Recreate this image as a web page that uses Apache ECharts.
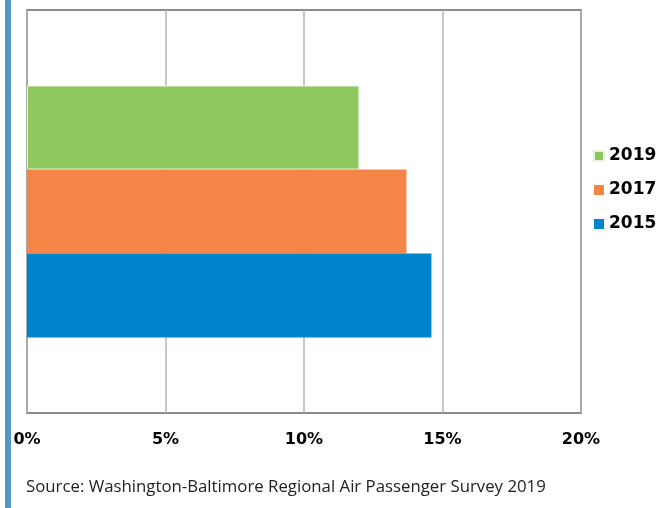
<!DOCTYPE html>
<html>
<head>
<meta charset="utf-8">
<script src="https://cdn.jsdelivr.net/npm/echarts@6/dist/echarts.min.js"></script>
<style>
  html, body { margin: 0; padding: 0; background: #fff; }
  #chart { width: 657px; height: 508px; }
</style>
</head>
<body>
<div id="chart"></div>
<script>
// Share of air passengers, by survey year
const categories = [''];
const years = ['2019', '2017', '2015'];
const values2019 = [12.0];
const values2017 = [13.7];
const values2015 = [14.6];
const xTicks = [0, 5, 10, 15, 20];
const sourceText = 'Source: Washington-Baltimore Regional Air Passenger Survey 2019';

const colors = { '2015': '#0085cc', '2017': '#f58447', '2019': '#8dc75d' };
const seriesValues = { '2015': values2015, '2017': values2017, '2019': values2019 };

const chart = echarts.init(document.getElementById('chart'), null, { renderer: 'canvas' });

chart.setOption({
  animation: false,
  backgroundColor: '#fff',
  textStyle: { fontFamily: 'DejaVu Sans' },
  grid: {
    left: 27, right: 76, top: 10, bottom: 95,
    show: true, borderColor: '#8a8a8a', borderWidth: 2,
    containLabel: false
  },
  legend: {
    orient: 'vertical',
    left: 588,
    top: 141,
    data: years,
    icon: 'rect',
    itemWidth: 10,
    itemHeight: 10,
    itemGap: 14,
    textStyle: { fontFamily: 'DejaVu Sans', fontWeight: 'bold', fontSize: 17, color: '#000', lineHeight: 20, padding: [0, 0, 0, 0] }
  },
  xAxis: {
    type: 'value',
    min: xTicks[0],
    max: xTicks[xTicks.length - 1],
    interval: 5,
    axisLine: { show: false },
    axisTick: { show: false },
    axisLabel: {
      formatter: '{value}%',
      margin: 19,
      fontFamily: 'DejaVu Sans',
      fontWeight: 'bold',
      fontSize: 16,
      color: '#000'
    },
    splitLine: { show: true, lineStyle: { color: '#b3b3b3', width: 1.5 } }
  },
  yAxis: {
    type: 'category',
    data: categories,
    axisLine: { show: false },
    axisTick: { show: false },
    axisLabel: { show: false }
  },
  series: years.map(y => ({
    name: y,
    type: 'bar',
    data: seriesValues[y],
    barGap: '0%',
    barCategoryGap: '37.5%',
    itemStyle: {
      color: colors[y],
      borderColor: y === '2019' ? '#e8f3de' : colors[y],
      borderWidth: y === '2019' ? 1 : 0
    }
  })),
  graphic: [
    {
      type: 'rect',
      left: 5, top: 0,
      shape: { width: 6, height: 508 },
      style: { fill: '#5597bd' },
      silent: true
    },
    {
      type: 'text',
      left: 26, top: 479,
      style: { text: sourceText, font: '16.8px "Open Sans"', fill: '#222' },
      silent: true
    }
  ]
});
</script>
</body>
</html>
